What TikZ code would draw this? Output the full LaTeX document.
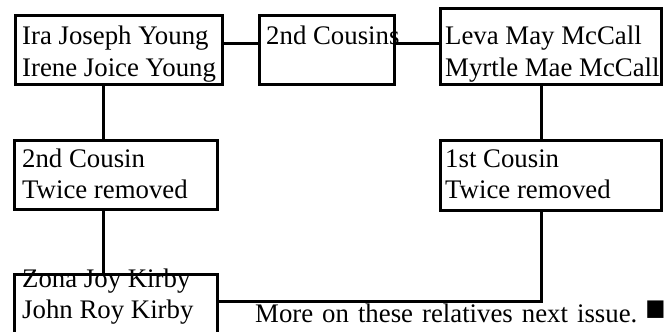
\documentclass[tikz,border=0pt]{standalone}
\usepackage{fontspec}
\setmainfont{Liberation Serif}

\pgfdeclarelayer{back}
\pgfsetlayers{back,main}

\tikzset{
	box/.style={draw, line width=3pt, rectangle, anchor=north west, inner sep=0pt},
	names/.style={anchor=base west, inner sep=0pt, font=\fontsize{26.8}{31.5}\selectfont},
	link/.style={line width=3pt},
}

\newcommand{\twolines}[2]{\begin{tabular}[t]{@{}l@{}}#1\\#2\end{tabular}}

\begin{document}
\begin{tikzpicture}[x=1pt,y=-1pt]

\def\width{667}
\def\height{332}

\path [use as bounding box] (0,0) rectangle (\width,\height);

% BOXES
\node [box, minimum width=207pt, minimum height=69pt] (young) at (14,14) {};
\node [box, minimum width=135pt, minimum height=69pt] (cousins) at (258,14) {};
\node [box, minimum width=221pt, minimum height=76pt] (mccall) at (439,7) {};
\node [box, minimum width=203pt, minimum height=69pt] (second) at (13,139) {};
\node [box, minimum width=221pt, minimum height=70pt] (first) at (439,139) {};
\node [box, minimum width=203pt, minimum height=70pt] (kirby) at (13,273) {};

% NAMES
\begin{pgfonlayer}{back}
\node [names] (youngtext) at ([xshift=8pt,yshift=-31pt]young.north west) {\twolines{Ira Joseph Young}{Irene Joice Young}};
\node [names] (cousinstext) at ([xshift=8pt,yshift=-31pt]cousins.north west) {2nd Cousins};
\node [names] (mccalltext) at ([xshift=6pt,yshift=-38pt]mccall.north west) {\twolines{Leva May McCall}{Myrtle Mae McCall}};
\node [names] (secondtext) at ([xshift=9pt,yshift=-28pt]second.north west) {\twolines{2nd Cousin}{Twice removed}};
\node [names] (firsttext) at ([xshift=6pt,yshift=-28pt]first.north west) {\twolines{1st Cousin}{Twice removed}};
\node [names] (kirbytext) at ([xshift=9pt,yshift=-14pt]kirby.north west) {\twolines{Zona Joy Kirby}{John Roy Kirby}};
\end{pgfonlayer}

% LINKS
\draw [link] ([yshift=-29pt]young.north east) -- ([yshift=-29pt]cousins.north west);
\draw [link] ([yshift=-29pt]cousins.north east) -- ([yshift=-36pt]mccall.north west);
\draw [link] ([xshift=89pt]young.south west) -- ([xshift=90pt]second.north west);
\draw [link] ([xshift=90pt]second.south west) -- ([xshift=90pt]kirby.north west);
\draw [link] ([xshift=102pt]mccall.south west) -- ([xshift=102pt]first.north west);
\draw [link] ([yshift=-28pt]kirby.north east) -| ([xshift=102pt]first.south west);

% NOTE
\node [names, font={\fontsize{26.8}{31.5}\selectfont\spaceskip=9pt\relax}] (note) at (255,322) {More on these relatives next issue.\hspace{8pt}\raisebox{2pt}{\scalebox{1.25}[1.35]{■}}};

\end{tikzpicture}
\end{document}
